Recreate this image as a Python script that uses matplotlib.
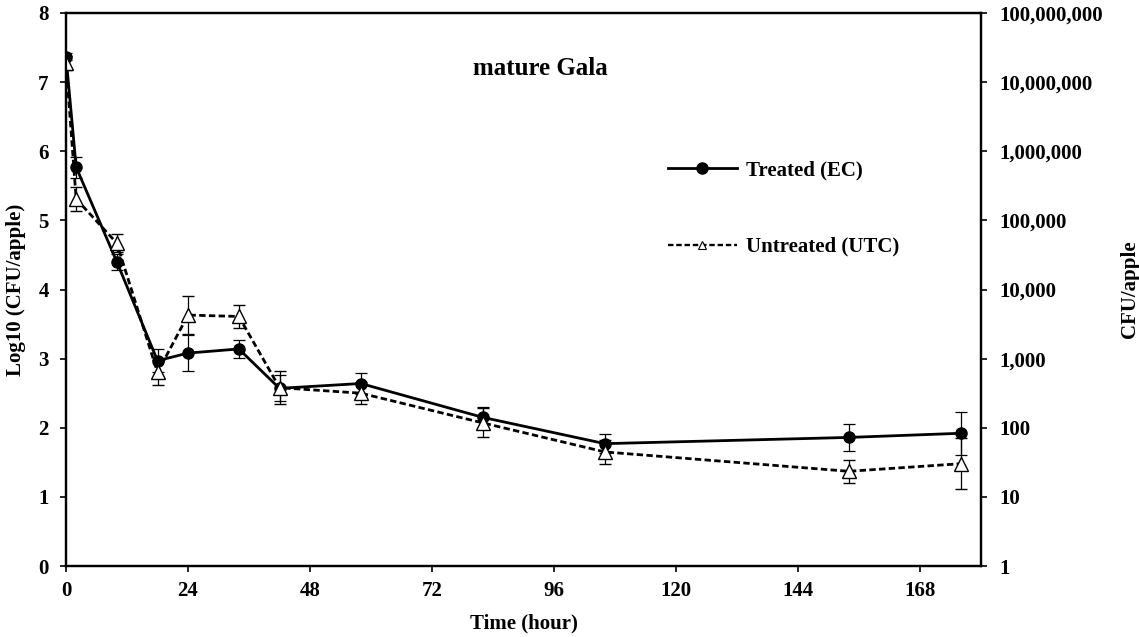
import matplotlib
matplotlib.use("Agg")
import matplotlib.pyplot as plt
from matplotlib.ticker import FuncFormatter, NullLocator
from matplotlib.lines import Line2D

plt.rcParams['font.family'] = ['Liberation Serif', 'DejaVu Serif']
plt.rcParams['font.weight'] = 'bold'

# data
hours = [0, 2, 10, 18, 24, 34, 42, 58, 82, 106, 154, 176]
treated = [7.37, 5.77, 4.40, 2.97, 3.08, 3.14, 2.57, 2.64, 2.15, 1.77, 1.86, 1.92]
treated_err = [0.05, 0.15, 0.12, 0.17, 0.26, 0.13, 0.19, 0.15, 0.15, 0.14, 0.20, 0.31]
untreated = [7.28, 5.31, 4.67, 2.80, 3.63, 3.61, 2.58, 2.50, 2.07, 1.65, 1.37, 1.48]
untreated_err = [0.10, 0.17, 0.13, 0.18, 0.28, 0.17, 0.24, 0.16, 0.21, 0.17, 0.17, 0.37]

x_ticks = [0, 24, 48, 72, 96, 120, 144, 168]
y_ticks = [0, 1, 2, 3, 4, 5, 6, 7, 8]
right_ticks = [1, 10, 100, 1000, 1e4, 1e5, 1e6, 1e7, 1e8]

FS = 15

fig = plt.figure(figsize=(11.39, 6.37), dpi=100)
ax = fig.add_axes([66 / 1139, 71 / 637, 915 / 1139, 553 / 637])

ax.errorbar(hours, treated, yerr=treated_err, color='black', lw=2.0,
            marker='o', ms=8, mfc='black', mec='black',
            ecolor='black', elinewidth=0.9, capsize=4, capthick=0.9,
            label='Treated (EC)', zorder=3)
ax.errorbar(hours, untreated, yerr=untreated_err, color='black', lw=2.0,
            ls=(0, (2.3, 1.2)), marker='^', ms=10, mfc='white', mec='black',
            mew=1.0, ecolor='black', elinewidth=0.9, capsize=4, capthick=0.9,
            label='Untreated (UTC)', zorder=4)

ax.set_xlim(0, 180)
ax.set_ylim(0, 8)
ax.set_xticks(x_ticks)
ax.set_yticks(y_ticks)
ax.tick_params(axis='y', direction='out', length=4.5, width=1.2,
               labelsize=FS, pad=8)
ax.tick_params(axis='x', direction='out', length=4.5, width=1.2,
               labelsize=FS, pad=6)
for s in ax.spines.values():
    s.set_linewidth(1.6)

ax.set_xlabel('Time (hour)', fontsize=FS, fontweight='bold', labelpad=9)
ax.set_ylabel('Log10 (CFU/apple)', fontsize=FS, fontweight='bold', labelpad=9)

ax.text(0.518, 0.90, 'mature Gala', transform=ax.transAxes, ha='center',
        va='center', fontsize=18, fontweight='bold')

ax2 = ax.twinx()
ax2.set_yscale('log')
ax2.set_ylim(1, 1e8)
ax2.set_yticks(right_ticks)
ax2.yaxis.set_minor_locator(NullLocator())
ax2.yaxis.set_major_formatter(FuncFormatter(lambda v, p: '{:,.0f}'.format(v)))
ax2.tick_params(direction='out', length=4.5, width=1.2, labelsize=FS, pad=9)
ax2.set_ylabel('CFU/apple', fontsize=FS, fontweight='bold', labelpad=12)
for s in ax2.spines.values():
    s.set_linewidth(1.6)

# legend, no frame, handles as in the reference
h1 = Line2D([], [], color='black', lw=2.0, marker='o', ms=8)
h2 = Line2D([], [], color='black', lw=1.7, ls=(0, (2.3, 1.2)), marker='^',
            ms=6, mfc='white', mec='black', mew=0.8)
ax.legend([h1, h2], ['Treated (EC)', 'Untreated (UTC)'],
          loc='center left', bbox_to_anchor=(0.658, 0.646), frameon=False,
          borderpad=0, borderaxespad=0,
          handlelength=3.3, labelspacing=2.7, handletextpad=0.45,
          prop={'size': FS, 'weight': 'bold'})

fig.savefig('out.png', dpi=100)
